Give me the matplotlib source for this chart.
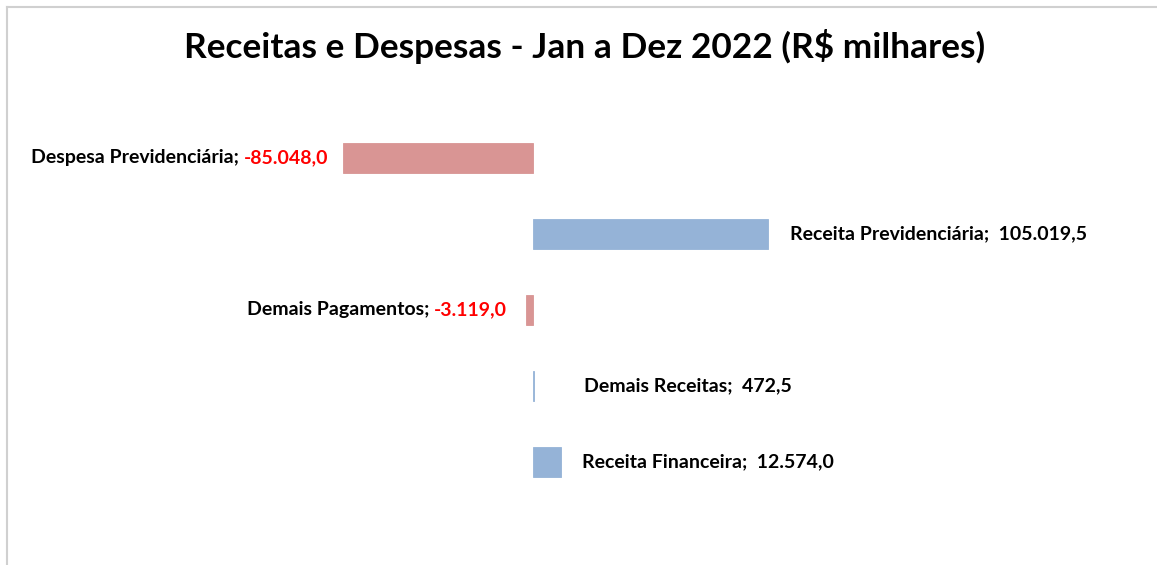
import matplotlib.pyplot as plt
import matplotlib.patheffects as pe
from matplotlib.lines import Line2D
from matplotlib.transforms import offset_copy

categorias = ["Despesa Previdenciária", "Receita Previdenciária", "Demais Pagamentos",
              "Demais Receitas", "Receita Financeira"]
valores = [-85048.0, 105019.5, -3119.0, 472.5, 12574.0]
# distancia do rotulo ate a barra (pixels)
afastamento = [15, 22, 19, 50, 21]

cor_neg = "#D99594"
cor_pos = "#95B3D7"
fonte = "Lato"


def fmt_br(v):
    s = "{:,.1f}".format(abs(v))
    s = s.replace(",", "X").replace(".", ",").replace("X", ".")
    return ("-" if v < 0 else "") + s


W, H = 1157, 565
fig = plt.figure(figsize=(W / 100, H / 100), dpi=100)
ax = fig.add_axes([0, 0, 1, 1])

x0_px, escala = 533, 2.233 / 1000  # pixel do zero, pixels por unidade
y0_px, passo = 158, 76
ax.set_xlim(-x0_px / escala, (W - x0_px) / escala)
ax.set_ylim((H - y0_px) / passo, -y0_px / passo)
ax.axis("off")

pos = list(range(len(categorias)))
cores = [cor_neg if v < 0 else cor_pos for v in valores]
barras = ax.barh(pos, valores, height=0.395, color=cores, edgecolor=cores, lw=0.6, zorder=2)
for b in barras:
    b.set_path_effects([pe.SimplePatchShadow(offset=(1, -1), alpha=0.1, shadow_rgbFace="#808080"),
                        pe.Normal()])

tam = 14
renderer = fig.canvas.get_renderer()
for i, (cat, v) in enumerate(zip(categorias, valores)):
    if v < 0:
        tr = offset_copy(ax.transData, fig=fig, x=-afastamento[i], y=0, units="dots")
        t = ax.text(v, i, fmt_br(v), transform=tr, ha="right", va="center",
                    fontsize=tam, fontweight="bold", color="#FF0000", family=fonte)
        bb = t.get_window_extent(renderer)
        fig.text(bb.x0 / W, (bb.y0 + bb.y1) / 2 / H, cat + "; ", ha="right", va="center",
                 fontsize=tam, fontweight="bold", color="#000000", family=fonte)
    else:
        tr = offset_copy(ax.transData, fig=fig, x=afastamento[i], y=0, units="dots")
        ax.text(v, i, cat + ";  " + fmt_br(v), transform=tr, ha="left", va="center",
                fontsize=tam, fontweight="bold", color="#000000", family=fonte)

fig.text(585 / W, 1 - 47 / H, "Receitas e Despesas - Jan a Dez 2022 (R$ milhares)",
         ha="center", va="center", fontsize=25.4, fontweight="bold", family=fonte)

# moldura
fig.add_artist(Line2D([7 / W, 1], [1 - 7 / H, 1 - 7 / H], color="#D0D0D0", lw=1.5))
fig.add_artist(Line2D([7 / W, 7 / W], [0, 1 - 7 / H], color="#D0D0D0", lw=1.5))

fig.savefig("out.png", dpi=100)
